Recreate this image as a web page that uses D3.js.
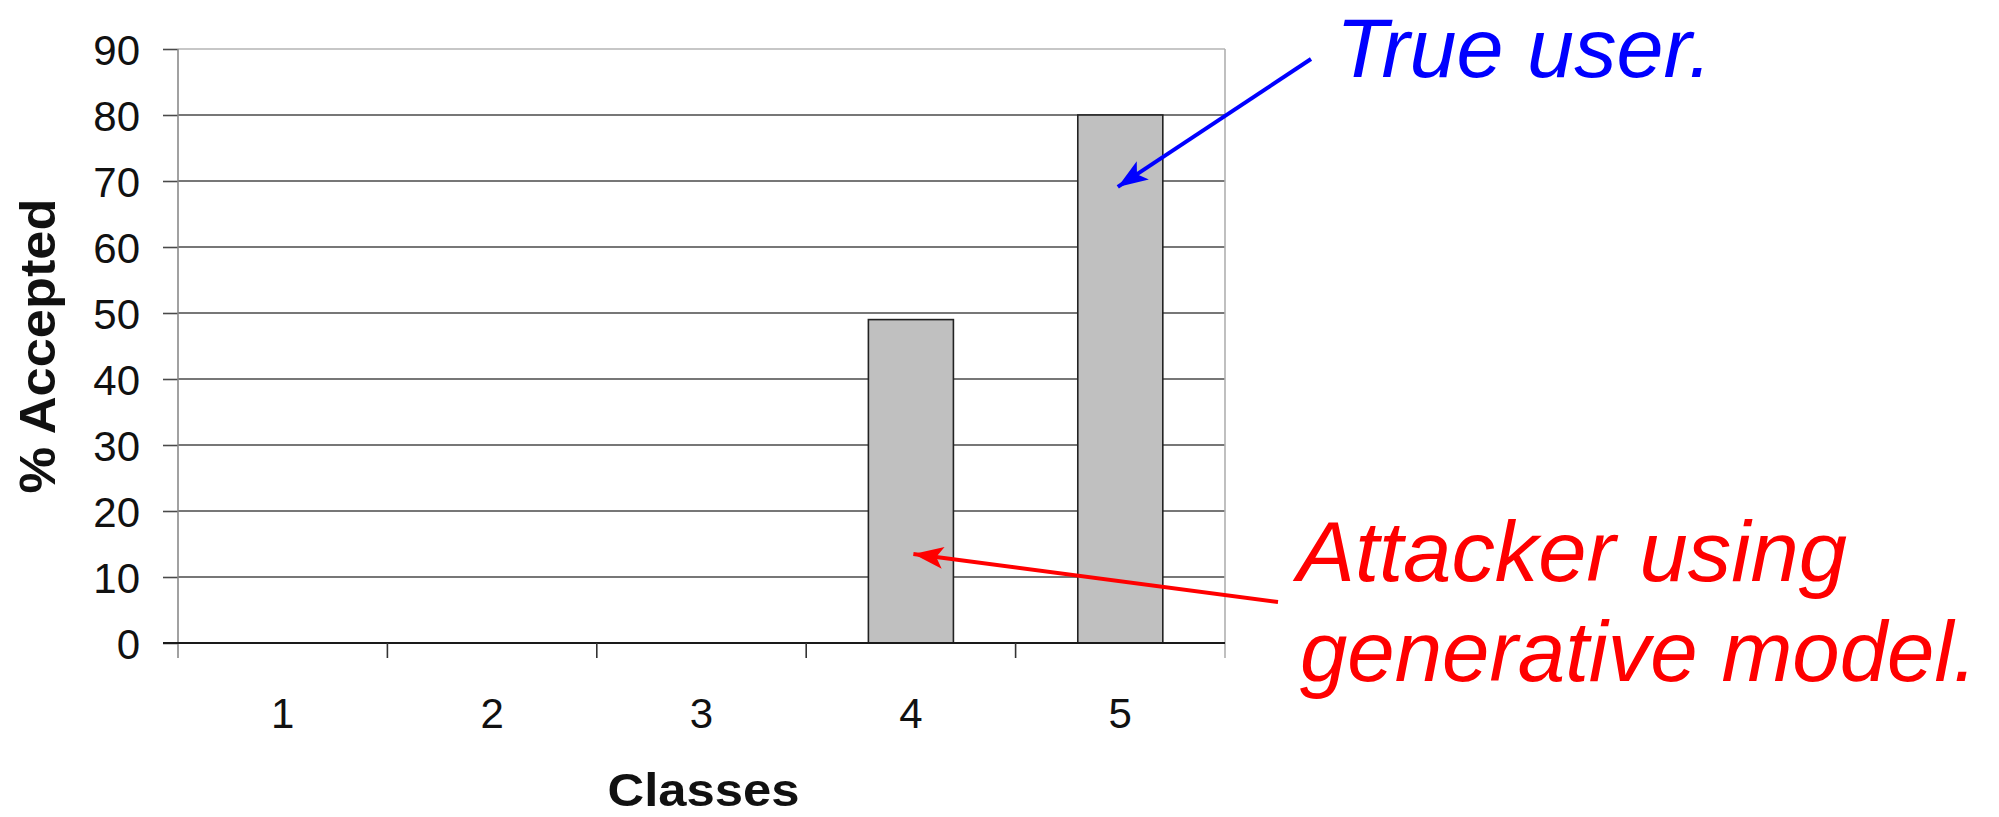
<!DOCTYPE html>
<html>
<head>
<meta charset="utf-8">
<script src="https://cdn.jsdelivr.net/npm/d3@7"></script>
<style>
  html, body { margin: 0; padding: 0; background: #ffffff; }
  svg { display: block; }
  text { font-family: "Liberation Sans", Arial, Helvetica, sans-serif; }
</style>
</head>
<body>
<svg id="chart" width="1999" height="817"></svg>
<script>
// ---- data ----
const categories = ["1", "2", "3", "4", "5"];
const accepted = [0, 0, 0, 49, 80];
const yTicks = [0, 10, 20, 30, 40, 50, 60, 70, 80, 90];
const yTitle = "% Accepted";
const xTitle = "Classes";
const trueUserLabel = ["True user."];
const attackerLabel = ["Attacker using", "generative model."];

// ---- layout ----
const W = 1999, H = 817;
const plot = { left: 178, right: 1225, top: 49, bottom: 643 };

const svg = d3.select("#chart");

const y = d3.scaleLinear().domain([0, 90]).range([plot.bottom, plot.top]);
const xCat = d3.scaleBand().domain(categories).range([plot.left, plot.right]).padding(0);
const xBar = d3.scaleBand().domain(categories).range([plot.left, plot.right])
  .paddingInner(0.594).paddingOuter(0.297);

// gridlines (10..80)
svg.append("g").selectAll("line")
  .data(yTicks.filter(t => t > 0 && t < 90))
  .join("line")
  .attr("x1", plot.left).attr("x2", plot.right)
  .attr("y1", d => y(d)).attr("y2", d => y(d))
  .attr("stroke", "#4a4a4a").attr("stroke-width", 1.6);

// top border (90) and right border
svg.append("line")
  .attr("x1", plot.left).attr("x2", plot.right)
  .attr("y1", y(90)).attr("y2", y(90))
  .attr("stroke", "#b4b4b4").attr("stroke-width", 1.6);
svg.append("line")
  .attr("x1", plot.right).attr("x2", plot.right)
  .attr("y1", y(90)).attr("y2", plot.bottom + 15)
  .attr("stroke", "#b0b0b0").attr("stroke-width", 1.6);

// y axis
const yAxis = svg.append("g")
  .attr("transform", `translate(${plot.left},0)`)
  .call(d3.axisLeft(y).tickValues(yTicks).tickSize(15).tickSizeOuter(0).tickPadding(23));
yAxis.select(".domain").remove();
yAxis.selectAll(".tick line").attr("stroke", "#4a4a4a").attr("stroke-width", 1.6);
yAxis.selectAll(".tick text")
  .attr("font-size", 42).attr("fill", "#111")
  .style("font-family", "'Liberation Sans', Arial, Helvetica, sans-serif")
  .attr("dy", "0.36em");
svg.append("line")
  .attr("x1", plot.left).attr("x2", plot.left)
  .attr("y1", y(90)).attr("y2", plot.bottom + 15)
  .attr("stroke", "#8a8a8a").attr("stroke-width", 1.6);

// bars
svg.append("g").selectAll("rect")
  .data(categories.map((c, i) => ({ c, v: accepted[i] })).filter(d => d.v > 0))
  .join("rect")
  .attr("x", d => xBar(d.c))
  .attr("y", d => y(d.v))
  .attr("width", xBar.bandwidth())
  .attr("height", d => y(0) - y(d.v))
  .attr("fill", "#c0c0c0")
  .attr("stroke", "#222")
  .attr("stroke-width", 1.6);

// x axis line
svg.append("line")
  .attr("x1", plot.left - 15).attr("x2", plot.right)
  .attr("y1", y(0)).attr("y2", y(0))
  .attr("stroke", "#1a1a1a").attr("stroke-width", 1.8);

// x boundary ticks
const bounds = categories.map(c => xCat(c)).concat([xCat(categories[categories.length - 1]) + xCat.bandwidth()]);
svg.append("g").selectAll("line")
  .data(bounds.slice(1, -1))
  .join("line")
  .attr("x1", d => d).attr("x2", d => d)
  .attr("y1", y(0)).attr("y2", y(0) + 15)
  .attr("stroke", "#333").attr("stroke-width", 1.6);

// x labels
svg.append("g").selectAll("text")
  .data(categories)
  .join("text")
  .attr("x", d => xCat(d) + xCat.bandwidth() / 2)
  .attr("y", 728)
  .attr("text-anchor", "middle")
  .attr("font-size", 42)
  .attr("fill", "#111")
  .text(d => d);

// axis titles
svg.append("text")
  .attr("x", (plot.left + plot.right) / 2 + 2)
  .attr("y", 806)
  .attr("text-anchor", "middle")
  .attr("font-size", 47)
  .attr("font-weight", "bold")
  .attr("fill", "#111")
  .attr("textLength", 192).attr("lengthAdjust", "spacingAndGlyphs")
  .text(xTitle);

svg.append("text")
  .attr("transform", `translate(55,${(plot.top + plot.bottom) / 2}) rotate(-90)`)
  .attr("text-anchor", "middle")
  .attr("font-size", 50)
  .attr("font-weight", "bold")
  .attr("fill", "#111")
  .attr("textLength", 295).attr("lengthAdjust", "spacingAndGlyphs")
  .text(yTitle);

// ---- annotations ----
function arrow(x1, y1, x2, y2, color) {
  svg.append("line")
    .attr("x1", x1).attr("y1", y1).attr("x2", x2).attr("y2", y2)
    .attr("stroke", color).attr("stroke-width", 4);
  const ang = Math.atan2(y2 - y1, x2 - x1) * 180 / Math.PI;
  svg.append("path")
    .attr("d", "M0,0 L-30,-11 L-23,0 L-30,11 Z")
    .attr("transform", `translate(${x2},${y2}) rotate(${ang})`)
    .attr("fill", color);
}

// True user arrow -> bar 5
arrow(1311, 59, xBar("5") + 40, y(69.1), "#0000ff");
svg.append("text")
  .attr("x", 1336).attr("y", 77)
  .attr("font-size", 83).attr("font-style", "italic")
  .attr("fill", "#0000ff")
  .attr("textLength", 376).attr("lengthAdjust", "spacingAndGlyphs")
  .text(trueUserLabel[0]);

// Attacker arrow -> bar 4
arrow(1278, 602, xBar("4") + 45, y(13.5), "#ff0000");
const attackerLens = [550, 677];
const attackerX = [1297, 1300];
const attackerY = [581, 681];
attackerLabel.forEach((t, i) => {
  svg.append("text")
    .attr("x", attackerX[i]).attr("y", attackerY[i])
    .attr("font-size", 85).attr("font-style", "italic")
    .attr("fill", "#ff0000")
    .attr("textLength", attackerLens[i]).attr("lengthAdjust", "spacingAndGlyphs")
    .text(t);
});
</script>
</body>
</html>
